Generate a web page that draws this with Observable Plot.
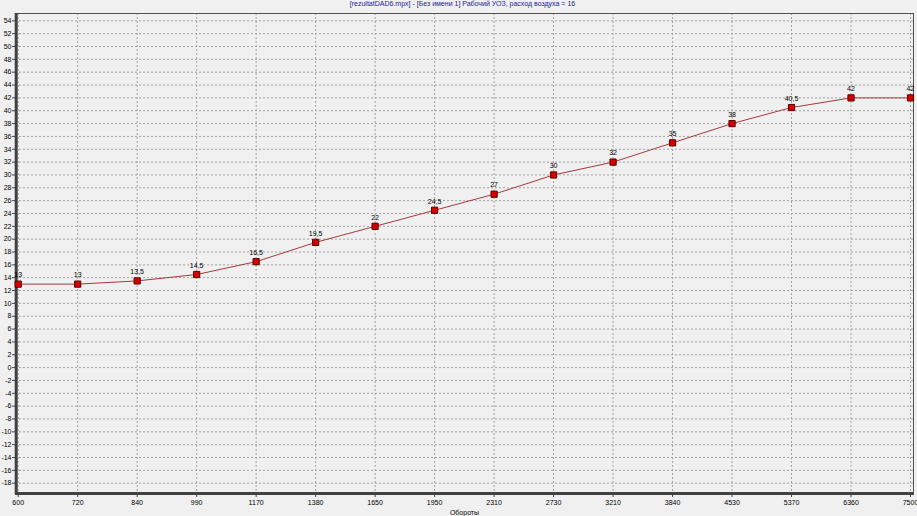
<!DOCTYPE html>
<html>
<head>
<meta charset="utf-8">
<script src="https://cdn.jsdelivr.net/npm/d3@7"></script>
<script src="https://cdn.jsdelivr.net/npm/@observablehq/plot@0.6"></script>
<style>
  html, body { margin: 0; padding: 0; background: #f0f0f0; }
  #title { height: 12px; line-height: 14px; text-align: center; font: 7px "Liberation Sans", Arial, sans-serif; color: #1a1a9a; white-space: nowrap; padding-left: 8px; }
  #chart svg { display: block; background: #f0f0f0; }
</style>
</head>
<body>
<div id="title">[rezultatDAD6.mpx] - [Без имени 1] Рабочий УОЗ, расход воздуха = 16</div>
<div id="chart"></div>
<script>
const titleText = "[rezultatDAD6.mpx] - [Без имени 1] Рабочий УОЗ, расход воздуха = 16";
const xLabel = "Обороты";
const rpm = ["600", "720", "840", "990", "1170", "1380", "1650", "1950", "2310", "2730", "3210", "3840", "4530", "5370", "6360", "7500"];
const values = [13, 13, 13.5, 14.5, 16.5, 19.5, 22, 24.5, 27, 30, 32, 35, 38, 40.5, 42, 42];
const yTicks = d3.range(-18, 55, 2);
const yDomain = [-19.76, 55.14];

const data = rpm.map((r, i) => ({rpm: r, v: values[i]}));
const fmt = v => String(v).replace(".", ",");

const chart = Plot.plot({
  width: 917,
  height: 504,
  marginTop: 1,
  marginBottom: 22,
  marginLeft: 15,
  marginRight: 4,
  style: {background: "#f0f0f0", fontFamily: "'Liberation Sans', Arial, sans-serif", fontSize: "7px", color: "#000"},
  x: {type: "point", domain: rpm, range: [17.7, 910], padding: 0, round: false},
  y: {domain: yDomain},
  marks: [
    Plot.gridX(rpm, {stroke: "#a0a0a0", strokeOpacity: 1, strokeDasharray: "2,2"}),
    Plot.gridY(yTicks, {stroke: "#a0a0a0", strokeOpacity: 1, strokeDasharray: "2,2"}),
    Plot.frame({stroke: "#505050", strokeWidth: 1}),
    Plot.ruleY([yDomain[0]], {stroke: "#404040", strokeWidth: 3, dy: -1}),
    Plot.ruleX([rpm[0]], {stroke: "#404040", strokeWidth: 3, dx: -2}),
    Plot.axisY(yTicks, {tickSize: 3, tickPadding: 1, tickFormat: d => String(d), stroke: "#404040", label: null}),
    Plot.axisX(rpm, {tickSize: 3, tickPadding: 3, stroke: "#404040", label: xLabel, labelAnchor: "center", labelArrow: "none", labelOffset: 20}),
    Plot.line(data, {x: "rpm", y: "v", stroke: "#a83a3a", strokeWidth: 1}),
    Plot.dot(data, {x: "rpm", y: "v", symbol: "square", r: 3.5, fill: "#d40000", stroke: "#5a0000", strokeWidth: 1}),
    Plot.text(data, {x: "rpm", y: "v", text: d => fmt(d.v), dy: -9, fill: "#000", fontSize: 7})
  ]
});
document.getElementById("chart").appendChild(chart);
</script>
</body>
</html>
